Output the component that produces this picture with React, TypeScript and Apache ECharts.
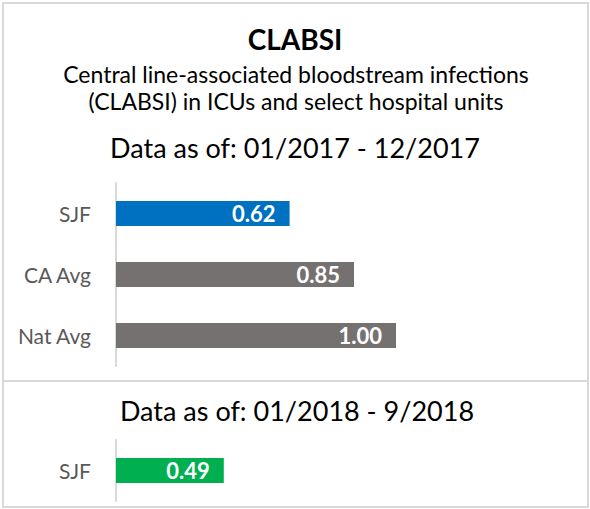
import React, { useEffect, useRef } from "react";
import * as echarts from "echarts";

const categories2017 = ["SJF", "CA Avg", "Nat Avg"];
const values2017 = [0.62, 0.85, 1.0];
const colors2017 = ["#0070C0", "#767171", "#767171"];

const categories2018 = ["SJF"];
const values2018 = [0.49];
const colors2018 = ["#00B050"];

const titleText = "CLABSI";
const subtitleLines = [
  "Central line-associated bloodstream infections",
  "(CLABSI) in ICUs and select hospital units",
];
const period2017 = "Data as of: 01/2017 - 12/2017";
const period2018 = "Data as of: 01/2018 - 9/2018";

const FONT = "Lato, 'Open Sans', sans-serif";

export default function App() {
  const ref = useRef<HTMLDivElement>(null);
  useEffect(() => {
    document.body.style.margin = "0";
    if (!ref.current) return;
    const chart = echarts.init(ref.current, undefined, { renderer: "svg" });
    const labelCommon = {
      show: true,
      position: "insideRight",
      distance: 14,
      color: "#ffffff",
      fontWeight: "bold",
      fontSize: 22,
      fontFamily: FONT,
      formatter: (p: any) => Number(p.value).toFixed(2),
    };
    const yAxisCommon = {
      type: "category",
      inverse: true,
      axisLine: { show: true, lineStyle: { color: "#d9d9d9", width: 2 } },
      axisTick: { show: false },
      axisLabel: { margin: 25, fontSize: 21, color: "#595959", fontFamily: FONT },
      splitLine: { show: false },
    };
    const xAxisCommon = {
      type: "value",
      min: 0,
      max: 1,
      show: false,
      splitLine: { show: false },
    };
    chart.setOption({
      animation: false,
      backgroundColor: "#ffffff",
      textStyle: { fontFamily: FONT },
      grid: [
        { left: 116, top: 183, width: 280, height: 183 },
        { left: 116, top: 440, width: 220, height: 61 },
      ],
      xAxis: [
        { ...xAxisCommon, gridIndex: 0 },
        { ...xAxisCommon, gridIndex: 1 },
      ],
      yAxis: [
        { ...yAxisCommon, gridIndex: 0, data: categories2017 },
        { ...yAxisCommon, gridIndex: 1, data: categories2018 },
      ],
      series: [
        {
          type: "bar",
          xAxisIndex: 0,
          yAxisIndex: 0,
          barWidth: 25,
          data: values2017.map((v, i) => ({ value: v, itemStyle: { color: colors2017[i] } })),
          label: labelCommon,
        },
        {
          type: "bar",
          xAxisIndex: 1,
          yAxisIndex: 1,
          barWidth: 25,
          data: values2018.map((v, i) => ({ value: v, itemStyle: { color: colors2018[i] } })),
          label: labelCommon,
        },
      ],
      graphic: [
        {
          type: "rect",
          shape: { x: 3, y: 3, width: 585, height: 504 },
          style: { fill: "none", stroke: "#d9d9d9", lineWidth: 2 },
          silent: true,
        },
        {
          type: "line",
          shape: { x1: 3, y1: 381, x2: 588, y2: 381 },
          style: { stroke: "#d9d9d9", lineWidth: 2 },
          silent: true,
        },
        {
          type: "text",
          x: 295,
          y: 39,
          style: {
            text: titleText,
            fontSize: 28,
            fontWeight: "bold",
            fontFamily: FONT,
            fill: "#000000",
            align: "center",
            verticalAlign: "middle",
          },
        },
        ...subtitleLines.map((t, i) => ({
          type: "text",
          x: 296,
          y: 74 + i * 27,
          style: {
            text: t,
            fontSize: 23,
            fontFamily: FONT,
            fill: "#000000",
            align: "center",
            verticalAlign: "middle",
          },
        })),
        {
          type: "text",
          x: 295,
          y: 147,
          style: {
            text: period2017,
            fontSize: 27,
            fontFamily: FONT,
            fill: "#000000",
            align: "center",
            verticalAlign: "middle",
          },
        },
        {
          type: "text",
          x: 297,
          y: 410,
          style: {
            text: period2018,
            fontSize: 27,
            fontFamily: FONT,
            fill: "#000000",
            align: "center",
            verticalAlign: "middle",
          },
        },
      ],
    });
    return () => chart.dispose();
  }, []);
  return <div ref={ref} style={{ width: 590, height: 509 }} />;
}
